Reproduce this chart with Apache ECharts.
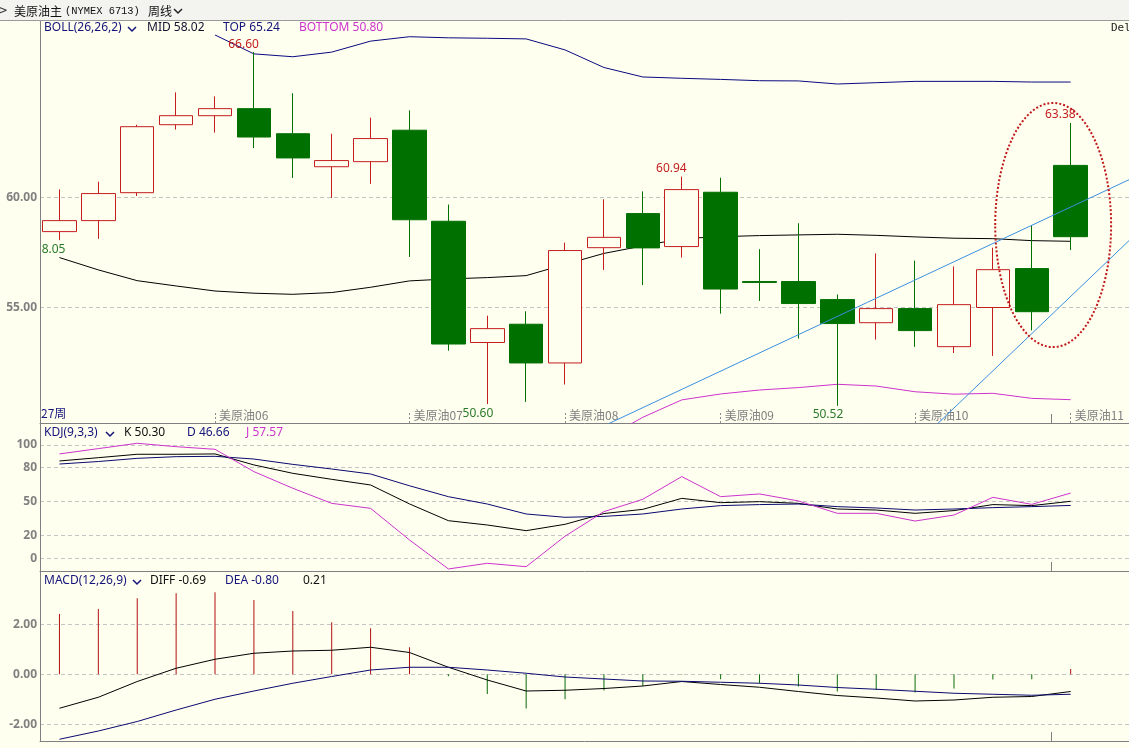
<!DOCTYPE html>
<html><head><meta charset="utf-8">
<script src="https://cdn.jsdelivr.net/npm/echarts@6/dist/echarts.min.js"></script>
<style>html,body{margin:0;padding:0;background:#fffff0;overflow:hidden}#c{width:1129px;height:748px}</style>
</head><body><div id="c"></div>
<script>
// ---------------- data ----------------
const weekIds = ['W01','W02','W03','W04','W05','W06','W07','W08','W09','W10','W11','W12','W13','W14','W15','W16','W17','W18','W19','W20','W21','W22','W23','W24','W25','W26','W27'];
const monthIdx = [4, 9, 13, 17, 22, 26];
const monthLabels = ['美原油06','美原油07','美原油08','美原油09','美原油10','美原油11'];

const opens  = [58.44,58.94,60.21,63.30,63.71,64.03,62.89,61.39,61.62,63.05,58.91,53.40,54.23,52.47,57.71,59.26,57.76,60.23,56.17,56.17,55.35,54.30,54.94,53.21,54.99,56.76,61.45];
const closes = [58.94,60.17,63.21,63.71,64.03,62.74,61.79,61.67,62.67,58.98,53.33,54.03,52.47,57.58,58.18,57.70,60.35,55.83,56.13,55.17,54.26,54.94,53.94,55.12,56.71,54.80,58.21];
const lows   = [58.05,58.11,60.06,63.08,62.94,62.24,60.88,59.97,60.61,57.29,53.03,50.60,50.70,51.49,56.70,56.01,57.26,54.71,55.29,53.58,50.52,53.53,53.20,52.92,52.79,53.95,57.60];
const highs  = [60.36,60.71,63.30,64.77,64.59,66.60,64.73,62.89,63.62,63.95,59.67,54.62,54.82,57.94,59.91,60.27,60.94,60.89,57.64,58.82,55.58,57.45,57.12,56.86,57.71,58.70,63.38];

const bollMid = [57.26,56.70,56.21,55.97,55.74,55.64,55.59,55.67,55.91,56.20,56.29,56.35,56.44,56.95,57.45,57.79,58.12,58.21,58.26,58.29,58.32,58.27,58.20,58.14,58.12,58.03,58.00];
const bollTop = [null,null,null,null,67.38,66.52,66.39,66.60,67.10,67.30,67.25,67.23,67.20,66.70,65.90,65.47,65.41,65.36,65.30,65.29,65.15,65.21,65.27,65.27,65.27,65.24,65.24];
const bollBottom = [null,null,null,null,null,null,null,null,null,null,null,null,null,null,49.00,50.00,50.79,51.06,51.24,51.35,51.50,51.42,51.16,51.05,51.09,50.86,50.80];

// trend lines drawn on the chart: [categoryIndex, price]
const trendLine1 = [[14, 49.61], [27.5, 60.80]];
const trendLine2 = [[22, 48.73], [27.5, 58.03]];
// dotted ellipse annotation: center [index, price], radii [index, price]
const ellipseCenter = [25.55, 58.74];
const ellipseRadius = [1.49, 5.55];

const highMarks = [[5, 66.60], [16, 60.94], [26, 63.38]];
const highMarkLabels = ['66.60', '60.94', '63.38'];
const lowMarks = [[0, 58.05], [11, 50.60], [20, 50.52]];
const lowMarkLabels = ['8.05', '50.60', '50.52'];

const kdjK = [85.9,88.8,91.8,91.8,92.1,82.4,75.0,69.7,64.7,48.0,33.2,29.4,24.4,30.0,39.5,43.2,52.9,49.1,50.0,48.5,43.5,42.6,39.7,42.1,47.4,46.5,50.30];
const kdjD = [83.2,85.4,88.2,89.7,90.0,87.6,82.9,78.8,74.4,64.0,54.4,47.9,39.1,36.2,37.0,39.1,43.5,46.5,47.4,47.9,45.6,44.4,42.6,43.5,44.7,45.6,46.66];
const kdjJ = [92.1,96.8,101.5,98.5,96.2,76.5,61.8,48.5,44.1,16.2,-9.4,-4.4,-7.4,19.5,41.2,52.1,72.1,54.4,56.8,50.6,39.7,39.7,32.9,38.2,53.8,47.6,57.57];

const macdDiff = [-1.36,-0.92,-0.29,0.24,0.60,0.84,0.93,0.96,1.08,0.87,0.28,-0.23,-0.67,-0.64,-0.57,-0.47,-0.29,-0.41,-0.52,-0.69,-0.85,-0.95,-1.07,-1.03,-0.92,-0.89,-0.69];
const macdDea  = [-2.60,-2.27,-1.89,-1.43,-1.00,-0.67,-0.36,-0.09,0.17,0.28,0.28,0.17,0.04,-0.11,-0.19,-0.27,-0.28,-0.32,-0.36,-0.43,-0.53,-0.60,-0.68,-0.76,-0.80,-0.84,-0.80];
const macdHist = [2.41,2.61,3.04,3.24,3.28,2.97,2.53,2.08,1.84,1.08,-0.08,-0.79,-1.37,-1.00,-0.65,-0.47,-0.02,-0.20,-0.36,-0.49,-0.69,-0.63,-0.73,-0.57,-0.21,-0.20,0.21];

const mainTicks = [55, 60];
const kdjTicks = [0, 20, 50, 80, 100];
const macdTicks = [-2, 0, 2];

// ---------------- style ----------------
const BG = '#fffff0';
const RED = '#c41e1e';
const GREEN = '#007000';
const NAVY = '#14147a';
const MAG = '#cc33cc';
const GRAY = '#808080';
const FONT = '"Noto Sans", "Noto Sans CJK SC", sans-serif';
const CJK = '"Noto Sans CJK SC", "Noto Sans", sans-serif';

const cats = weekIds.concat(['']);
const candleData = opens.map((o, i) => [o, closes[i], lows[i], highs[i]]);

function yAx(grid, min, max, ticks, fmt) {
  return {
    type: 'value', gridIndex: grid, min: min, max: max, position: 'left',
    axisLine: { show: true, onZero: false, lineStyle: { color: GRAY, width: 1 } },
    axisTick: { show: false, customValues: ticks },
    axisLabel: { customValues: ticks, formatter: fmt, color: GRAY, fontWeight: 'bold', fontSize: 12, fontFamily: FONT, margin: 3 },
    splitLine: { show: true, lineStyle: { color: '#c4c4c4', type: [4, 3], width: 1 } }
  };
}
function xCat(grid, withLabels) {
  return {
    type: 'category', gridIndex: grid, data: cats, boundaryGap: true, position: 'bottom',
    axisLine: { show: true, onZero: false, lineStyle: { color: GRAY, width: 1 } },
    axisTick: { show: true, inside: true, length: 9, interval: (i) => i === 0 || i === 26, lineStyle: { color: GRAY } },
    axisLabel: withLabels ? {
      inside: true, interval: 0, margin: 2, align: 'left', padding: [0, 0, 0, 4],
      color: GRAY, fontSize: 12, fontFamily: CJK,
      formatter: (v, i) => { const k = monthIdx.indexOf(i); return k >= 0 ? monthLabels[k] : ''; }
    } : { show: false },
    splitLine: { show: false }
  };
}
function lineS(x, y, data, color, z) {
  return { type: 'line', xAxisIndex: x, yAxisIndex: y, data: data, symbol: 'none', showSymbol: false,
    lineStyle: { color: color, width: 1 }, itemStyle: { color: color }, connectNulls: false, z: z || 3, silent: true };
}

function txt(id, x, y, text, color, font) {
  return { type: 'text', id: id, x: x, y: y, z: 100,
    style: { text: text, fill: color, font: font || ('12px ' + FONT), verticalAlign: 'middle', align: 'left' } };
}
function chev(id, x, y, color) {
  return { type: 'polyline', id: id, z: 100, shape: { points: [[x, y - 2], [x + 4, y + 2], [x + 8, y - 2]] },
    style: { stroke: color, lineWidth: 1.5, fill: null } };
}

const baseGraphics = [
  { type: 'rect', id: 'hdr', z: 90, shape: { x: 0, y: 0, width: 1129, height: 20 }, style: { fill: '#f3f3ef' } },
  { type: 'line', id: 'hdrline', z: 91, shape: { x1: 0, y1: 20.5, x2: 1129, y2: 20.5 }, style: { stroke: '#9a9a9a', lineWidth: 1 } },
  txt('icon', -2, 11, '⊳', '#333', '12px "DejaVu Sans"'),
  txt('h1', 14, 11, '美原油主', '#111', '12px ' + CJK),
  txt('h2', 65, 11, '(NYMEX 6713)', '#111', '10.4px "Liberation Mono"'),
  txt('h3', 148, 11, '周线', '#111', '12px ' + CJK),
  chev('hc', 174, 11, '#222'),
  txt('b1', 44, 28, 'BOLL(26,26,2)', NAVY),
  chev('bc', 128, 29, NAVY),
  txt('b2', 147, 28, 'MID 58.02', '#101030'),
  txt('b3', 223, 28, 'TOP 65.24', NAVY),
  txt('b4', 299, 28, 'BOTTOM 50.80', MAG),
  txt('del', 1111, 28, 'Del', '#222', '11px "DejaVu Sans Mono"'),
  txt('wk', 41, 413, '27周', NAVY, '12px ' + CJK),
  txt('k1', 44, 433, 'KDJ(9,3,3)', NAVY),
  chev('kc', 106, 434, NAVY),
  txt('k2', 124, 433, 'K 50.30', '#111'),
  txt('k3', 187, 433, 'D 46.66', NAVY),
  txt('k4', 246, 433, 'J 57.57', MAG),
  txt('m1', 44, 581, 'MACD(12,26,9)', NAVY),
  chev('mc', 133, 582, NAVY),
  txt('m2', 150, 581, 'DIFF -0.69', '#111'),
  txt('m3', 225, 581, 'DEA -0.80', NAVY),
  txt('m4', 303, 581, '0.21', '#111')
];

const markData = [];
highMarks.forEach((m, i) => markData.push({ coord: m, value: highMarkLabels[i],
  label: { color: RED, verticalAlign: 'bottom', offset: [5, -2] } }));
lowMarks.forEach((m, i) => markData.push({ coord: m, value: lowMarkLabels[i],
  label: { color: '#2a7a2a', verticalAlign: 'top', offset: [6, 3] } }));

const option = {
  animation: false,
  backgroundColor: BG,
  grid: [
    { left: 40, top: 20, width: 1092, height: 403 },
    { left: 40, top: 423, width: 1092, height: 148 },
    { left: 40, top: 571, width: 1092, height: 170 }
  ],
  xAxis: [
    xCat(0, true),
    { type: 'value', gridIndex: 0, min: -0.5, max: 27.5, position: 'bottom',
      axisLine: { show: false, onZero: false },
      axisTick: { show: true, inside: true, length: 10, customValues: monthIdx, lineStyle: { color: '#8c8c8c', type: [2, 2] } },
      axisLabel: { show: false }, splitLine: { show: false } },
    xCat(1, false),
    xCat(2, false)
  ],
  yAxis: [
    yAx(0, 49.74, 68.06, mainTicks, v => v.toFixed(2)),
    yAx(1, -11.2, 119.4, kdjTicks, v => String(v)),
    yAx(2, -2.67, 4.13, macdTicks, v => v.toFixed(2))
  ],
  series: [
    { type: 'candlestick', xAxisIndex: 0, yAxisIndex: 0, data: candleData, barWidth: 34, z: 4,
      itemStyle: { color: BG, color0: GREEN, borderColor: RED, borderColor0: GREEN, borderWidth: 1 },
      markPoint: { symbol: 'circle', symbolSize: 1, itemStyle: { color: 'rgba(0,0,0,0)' }, silent: true,
        label: { show: true, position: 'inside', align: 'right', formatter: '{c}', fontSize: 12, fontFamily: FONT },
        data: markData } },
    lineS(0, 0, bollMid, '#000000'),
    lineS(0, 0, bollTop, '#0a0a80'),
    lineS(0, 0, bollBottom, MAG),
    lineS(1, 0, trendLine1, '#3a8fe0', 5),
    lineS(1, 0, trendLine2, '#3a8fe0', 5),
    lineS(2, 1, kdjK, '#000000'),
    lineS(2, 1, kdjD, '#0a0a70'),
    lineS(2, 1, kdjJ, MAG),
    { type: 'bar', xAxisIndex: 3, yAxisIndex: 2, barWidth: 1, silent: true,
      data: macdHist.map(v => ({ value: v, itemStyle: { color: v >= 0 ? '#b01010' : '#0a6a0a' } })) },
    lineS(3, 2, macdDiff, '#000000'),
    lineS(3, 2, macdDea, '#0a0a70')
  ],
  graphic: baseGraphics
};

const chart = echarts.init(document.getElementById('c'), null, { renderer: 'canvas' });
chart.setOption(option);

// ellipse annotation positioned through the chart's own scales
const c0 = chart.convertToPixel({ xAxisIndex: 1, yAxisIndex: 0 }, ellipseCenter);
const c1 = chart.convertToPixel({ xAxisIndex: 1, yAxisIndex: 0 },
  [ellipseCenter[0] + ellipseRadius[0], ellipseCenter[1] + ellipseRadius[1]]);
chart.setOption({ graphic: baseGraphics.concat([
  { type: 'ellipse', id: 'ell', z: 95,
    shape: { cx: c0[0], cy: c0[1], rx: Math.abs(c1[0] - c0[0]), ry: Math.abs(c1[1] - c0[1]) },
    style: { stroke: '#c01818', lineWidth: 2, lineDash: [2, 2], fill: null } }
]) });
</script></body></html>
